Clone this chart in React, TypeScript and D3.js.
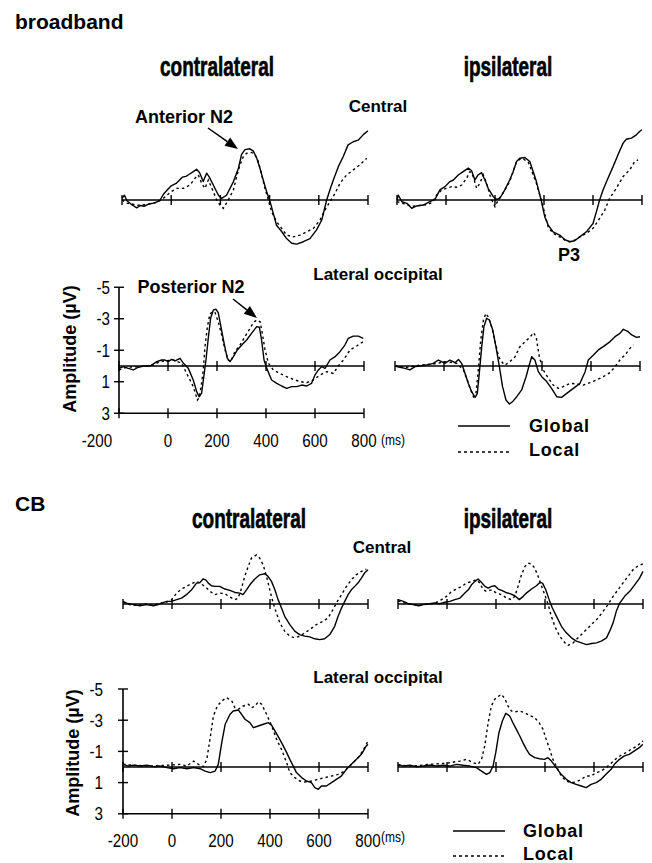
import React from 'react';
import * as d3 from 'd3';

type Pt = [number, number];

// ---------- axis values ----------
const X_TICKS = [-200, 0, 200, 400, 600, 800];
const X_TICK_LABELS = ['-200', '0', '200', '400', '600', '800'];
const Y_TICKS = [-5, -3, -1, 1, 3];
const Y_TICK_LABELS = ['-5', '-3', '-1', '1', '3'];
const SERIES_NAMES = ['Global', 'Local'];
const SECTION_NAMES = ['broadband', 'CB'];
const SIDE_NAMES = ['contralateral', 'ipsilateral'];
const SITE_NAMES = ['Central', 'Lateral occipital'];

// ---------- broadband, Central ----------
const BB_C_CONTRA_G: Pt[] = [[-200,-0.1],[-190,-0.3],[-180,0.05],[-160,0.3],[-140,0.5],[-125,0.35],[-110,0.4],[-90,0.25],[-70,0.2],[-55,0.1],[-45,0.0],[-30,-0.4],[-15,-0.65],[0,-0.9],[20,-1.05],[30,-1.2],[45,-1.45],[60,-1.5],[75,-1.65],[90,-1.8],[103,-1.95],[115,-1.75],[130,-1.17],[144,-1.7],[155,-1.45],[171,-0.95],[192,-0.3],[205,-0.1],[225,-0.3],[253,-1.17],[273,-2.0],[286,-2.9],[300,-3.2],[320,-3.25],[334,-3.1],[348,-2.65],[361,-2.0],[374,-1.27],[388,-0.53],[402,0.1],[415,0.85],[428,1.6],[449,2.0],[469,2.45],[490,2.75],[510,2.8],[537,2.65],[564,2.45],[591,1.9],[612,1.27],[632,0.0],[645,-0.64],[659,-1.27],[679,-2.1],[699,-2.75],[719,-3.5],[740,-3.7],[760,-3.8],[781,-4.15],[800,-4.4]];
const BB_C_CONTRA_L: Pt[] = [[-200,0.0],[-180,0.2],[-160,0.25],[-140,0.35],[-120,0.3],[-100,0.3],[-80,0.2],[-60,0.15],[-40,0.0],[-18,-0.3],[0,-0.53],[22,-0.74],[50,-0.74],[76,-0.95],[97,-1.38],[110,-1.59],[124,-1.06],[137,-0.74],[151,-1.27],[171,-0.53],[185,0.0],[198,0.32],[212,0.53],[232,0.0],[253,-0.64],[266,-1.49],[280,-2.23],[293,-2.76],[307,-2.97],[327,-3.02],[341,-2.87],[354,-2.44],[368,-1.59],[381,-0.74],[395,0.0],[408,0.74],[428,1.38],[449,1.8],[469,2.23],[496,2.34],[524,2.23],[551,2.02],[578,1.8],[605,1.27],[625,0.64],[645,0.11],[666,-0.42],[686,-1.06],[713,-1.59],[740,-1.91],[767,-2.23],[795,-2.65]];
const BB_C_IPSI_G: Pt[] = [[-200,0.0],[-195,-0.32],[-180,0.11],[-160,0.21],[-140,0.53],[-120,0.38],[-93,0.32],[-66,0.11],[-45,-0.04],[-25,-0.64],[-4,-0.85],[16,-1.17],[30,-1.27],[50,-1.59],[70,-1.8],[91,-2.02],[104,-1.87],[118,-1.27],[131,-1.59],[145,-1.74],[159,-1.27],[172,-0.74],[193,-0.21],[206,-0.04],[220,-0.11],[240,-0.64],[260,-1.27],[274,-1.8],[288,-2.44],[301,-2.65],[322,-2.7],[342,-2.44],[356,-1.8],[369,-1.17],[383,-0.32],[390,0.11],[403,1.06],[417,1.59],[437,2.02],[464,2.23],[485,2.51],[505,2.65],[525,2.59],[546,2.34],[573,2.02],[600,1.49],[614,0.74],[627,0.0],[641,-0.64],[661,-1.38],[682,-2.12],[702,-2.87],[723,-3.61],[736,-3.86],[757,-3.93],[777,-4.14],[790,-4.35],[800,-4.46]];
const BB_C_IPSI_L: Pt[] = [[-200,0.1],[-170,0.25],[-140,0.4],[-110,0.35],[-80,0.3],[-55,0.15],[-38,-0.32],[-18,-0.64],[2,-0.74],[23,-0.85],[43,-0.81],[64,-0.95],[84,-1.38],[98,-1.8],[111,-1.49],[125,-0.74],[138,-1.06],[152,-1.59],[166,-1.06],[179,-0.32],[193,0.21],[200,0.42],[213,0.0],[232,-0.42],[260,-1.17],[288,-2.44],[308,-2.65],[335,-2.44],[369,-1.06],[396,0.42],[417,1.7],[437,2.12],[464,2.34],[485,2.55],[505,2.65],[525,2.55],[546,2.34],[573,2.12],[600,1.8],[627,1.17],[648,0.64],[668,-0.11],[695,-0.74],[723,-1.49],[750,-1.91],[770,-2.44],[784,-2.55]];

// ---------- broadband, Lateral occipital ----------
const BB_LO_CONTRA_G: Pt[] = [[-200,0.15],[-182,0.04],[-162,0.15],[-141,0.25],[-121,0.08],[-101,0.0],[-73,0.0],[-46,-0.28],[-26,-0.38],[-12,-0.38],[1,-0.28],[15,-0.42],[29,-0.32],[49,-0.49],[63,-0.17],[83,0.15],[103,0.89],[117,1.63],[127,1.95],[137,1.74],[147,0.57],[155,-0.38],[165,-1.86],[174,-3.03],[185,-3.56],[196,-3.6],[205,-3.39],[216,-2.5],[229,-1.44],[242,-0.49],[253,-0.28],[267,-0.59],[283,-1.02],[301,-1.33],[321,-1.65],[341,-2.07],[362,-2.5],[373,-2.46],[382,-1.65],[392,-0.38],[403,0.15],[423,0.89],[444,1.1],[464,1.27],[484,1.42],[505,1.31],[525,1.31],[546,1.21],[566,1.27],[586,1.1],[600,0.57],[614,0.25],[627,0.04],[641,0.15],[661,-0.38],[682,-0.59],[702,-0.91],[722,-1.33],[736,-1.76],[756,-1.9],[777,-1.9],[797,-1.76]];
const BB_LO_CONTRA_L: Pt[] = [[-200,0.25],[-169,0.08],[-114,0.04],[-60,-0.06],[-33,-0.28],[-5,-0.34],[22,-0.38],[56,-0.17],[76,0.47],[97,1.1],[110,1.63],[120,2.16],[128,1.99],[135,1.31],[144,0.25],[151,-1.23],[161,-2.5],[171,-3.3],[182,-3.45],[192,-3.39],[205,-2.81],[219,-1.97],[233,-1.02],[246,-0.38],[256,-0.28],[273,-0.91],[294,-1.33],[314,-1.86],[335,-2.39],[348,-2.75],[362,-2.92],[376,-2.81],[386,-1.97],[396,-1.02],[410,-0.17],[430,0.25],[457,0.47],[484,0.68],[512,0.85],[539,0.99],[566,1.06],[593,0.89],[620,0.57],[648,0.36],[675,0.47],[695,0.0],[716,-0.38],[743,-1.02],[770,-1.27],[797,-1.55]];
const BB_LO_IPSI_G: Pt[] = [[-200,0.0],[-180,0.08],[-159,0.15],[-139,0.25],[-118,0.04],[-98,0.0],[-71,-0.06],[-44,-0.17],[-23,-0.38],[-10,-0.28],[4,-0.17],[24,-0.38],[45,-0.21],[59,-0.42],[72,-0.17],[86,0.47],[99,1.1],[113,1.63],[127,1.99],[136,1.74],[144,0.47],[154,-1.23],[163,-2.5],[174,-3.03],[185,-2.92],[199,-2.29],[212,-1.23],[226,0.04],[239,1.31],[253,2.16],[267,2.41],[280,2.26],[297,1.95],[317,1.52],[335,0.68],[348,-0.06],[358,-0.59],[371,-0.38],[385,0.36],[399,0.68],[419,0.99],[439,1.42],[460,1.95],[480,1.99],[501,1.74],[528,1.42],[555,1.1],[576,0.36],[589,-0.38],[610,-0.7],[630,-1.02],[650,-1.23],[678,-1.55],[698,-1.86],[718,-2.07],[732,-2.33],[752,-2.18],[766,-1.97],[786,-1.82],[800,-1.86]];
const BB_LO_IPSI_L: Pt[] = [[-200,0.0],[-152,0.08],[-98,-0.06],[-44,-0.13],[11,-0.28],[52,-0.17],[79,0.25],[95,0.89],[109,1.52],[120,1.95],[131,1.69],[140,0.25],[150,-1.65],[161,-2.92],[171,-3.34],[182,-3.09],[196,-2.39],[210,-1.44],[223,-0.59],[235,-0.28],[249,-0.06],[269,-0.28],[290,-0.59],[310,-1.23],[331,-1.55],[351,-1.82],[365,-2.12],[376,-1.86],[389,-0.59],[405,0.25],[426,0.78],[446,1.21],[467,1.42],[487,1.31],[514,1.1],[541,1.14],[569,1.21],[596,1.06],[623,0.89],[650,0.68],[678,0.42],[698,0.04],[718,-0.38],[739,-0.7],[759,-1.12],[773,-1.33]];

// ---------- CB, Central ----------
const CB_C_CONTRA_G: Pt[] = [[-200,-0.17],[-185,-0.06],[-158,0.04],[-131,0.11],[-104,0.04],[-76,0.11],[-56,0.04],[-42,-0.06],[-22,-0.17],[-2,-0.17],[19,-0.28],[39,-0.38],[59,-0.6],[80,-0.91],[100,-1.34],[114,-1.38],[127,-1.6],[138,-1.55],[148,-1.34],[161,-1.17],[175,-1.13],[195,-1.13],[216,-0.96],[236,-0.87],[257,-0.74],[277,-0.7],[290,-0.6],[304,-0.91],[318,-1.23],[338,-1.6],[358,-1.87],[379,-1.94],[392,-1.77],[406,-1.45],[420,-0.91],[433,-0.28],[447,0.26],[460,0.79],[481,1.32],[501,1.74],[521,1.96],[542,2.06],[562,2.11],[583,2.23],[603,2.28],[623,2.23],[644,1.96],[664,1.43],[678,0.79],[692,0.26],[705,-0.17],[719,-0.6],[732,-0.91],[746,-1.13],[759,-1.34],[773,-1.66],[786,-1.98],[800,-2.19]];
const CB_C_CONTRA_L: Pt[] = [[-200,-0.1],[-170,0.05],[-140,0.1],[-110,0.0],[-80,0.08],[-50,-0.05],[-25,-0.1],[-2,-0.28],[19,-0.7],[39,-0.96],[59,-1.13],[80,-1.3],[100,-1.45],[114,-1.34],[134,-1.13],[155,-0.81],[175,-0.6],[195,-0.7],[216,-0.66],[236,-0.45],[257,-0.28],[270,-0.38],[284,-1.02],[297,-1.77],[311,-2.4],[324,-2.94],[345,-3.15],[358,-2.94],[372,-2.51],[386,-1.77],[399,-0.91],[413,-0.06],[426,0.57],[440,1.21],[460,1.74],[481,2.06],[501,2.17],[521,2.06],[542,1.85],[562,1.64],[589,1.32],[617,1.11],[637,0.89],[657,0.36],[671,-0.06],[692,-0.6],[712,-1.13],[732,-1.55],[752,-1.87],[773,-2.09],[793,-2.23]];
const CB_C_IPSI_G: Pt[] = [[-200,-0.28],[-178,-0.17],[-158,-0.02],[-137,0.04],[-117,0.11],[-97,0.04],[-70,-0.02],[-49,-0.06],[-29,-0.02],[-8,-0.11],[12,-0.17],[32,-0.28],[53,-0.38],[73,-0.7],[87,-0.91],[100,-1.23],[114,-1.45],[127,-1.6],[141,-1.38],[155,-1.13],[168,-1.02],[182,-1.13],[195,-1.17],[209,-0.96],[223,-0.87],[240,-0.74],[257,-0.66],[277,-0.53],[295,-0.28],[311,-0.49],[324,-0.7],[345,-0.96],[365,-1.17],[379,-1.38],[390,-1.34],[403,-0.91],[417,-0.28],[430,0.26],[447,0.79],[467,1.43],[487,1.85],[508,2.17],[528,2.38],[549,2.49],[569,2.6],[590,2.53],[610,2.49],[630,2.38],[651,2.17],[664,1.74],[678,1.21],[691,0.47],[705,-0.06],[725,-0.49],[746,-0.81],[766,-1.23],[786,-1.66],[800,-2.09]];
const CB_C_IPSI_L: Pt[] = [[-200,-0.2],[-170,-0.05],[-140,0.05],[-110,0.1],[-80,0.0],[-50,-0.05],[-22,-0.28],[-2,-0.49],[19,-0.81],[39,-0.96],[60,-1.13],[80,-1.34],[100,-1.45],[121,-1.55],[134,-1.34],[148,-0.91],[161,-0.81],[182,-0.91],[202,-0.7],[223,-0.6],[243,-0.38],[263,-0.28],[277,-0.49],[290,-1.13],[304,-1.87],[318,-2.4],[331,-2.62],[345,-2.57],[358,-2.3],[372,-1.77],[386,-1.13],[399,-0.6],[413,0.04],[426,0.79],[440,1.43],[460,2.06],[481,2.49],[494,2.66],[515,2.49],[535,2.17],[555,1.85],[576,1.53],[596,1.21],[617,0.89],[637,0.47],[657,0.04],[678,-0.49],[698,-0.91],[718,-1.34],[739,-1.77],[759,-2.19],[780,-2.45],[800,-2.57]];

// ---------- CB, Lateral occipital ----------
const CB_LO_CONTRA_G: Pt[] = [[-200,-0.17],[-177,-0.06],[-157,-0.11],[-129,-0.06],[-102,-0.11],[-75,-0.02],[-48,-0.06],[-21,0.04],[6,0.11],[33,0.04],[61,0.11],[88,0.04],[115,0.11],[135,0.26],[156,0.36],[176,0.26],[189,-0.17],[203,-1.56],[217,-2.74],[237,-3.38],[250,-3.59],[271,-3.65],[284,-3.38],[298,-3.06],[318,-2.84],[332,-2.52],[352,-2.63],[373,-2.74],[393,-2.84],[407,-2.67],[420,-2.31],[440,-1.77],[454,-1.35],[468,-0.92],[481,-0.49],[495,-0.06],[508,0.36],[529,0.68],[549,0.9],[569,1.0],[583,1.32],[597,1.43],[610,1.22],[630,1.22],[651,1.0],[671,0.79],[691,0.58],[712,0.15],[732,-0.17],[753,-0.49],[773,-0.81],[793,-1.35],[800,-1.45]];
const CB_LO_CONTRA_L: Pt[] = [[-200,-0.17],[-157,-0.11],[-89,-0.06],[-21,-0.11],[33,-0.17],[61,-0.06],[88,-0.38],[108,-0.17],[128,-0.02],[142,-0.49],[156,-1.88],[169,-3.27],[185,-3.91],[203,-4.23],[223,-4.44],[244,-4.23],[257,-3.8],[271,-3.7],[291,-3.91],[312,-4.02],[325,-3.8],[339,-3.91],[352,-4.17],[366,-4.02],[386,-3.38],[407,-2.63],[427,-1.77],[447,-1.13],[468,-0.28],[481,0.36],[501,0.68],[522,0.9],[542,0.96],[569,0.9],[596,0.79],[624,0.68],[651,0.58],[678,0.47],[705,0.26],[725,-0.06],[746,-0.38],[766,-0.71],[786,-1.24],[800,-1.67]];
const CB_LO_IPSI_G: Pt[] = [[-200,-0.17],[-178,-0.06],[-151,-0.11],[-124,-0.02],[-97,-0.06],[-70,-0.11],[-43,-0.06],[-15,-0.11],[12,-0.06],[39,-0.17],[66,-0.11],[93,-0.06],[120,0.04],[141,0.26],[161,0.47],[175,0.36],[188,-0.06],[199,-0.92],[212,-2.2],[226,-2.95],[240,-3.44],[256,-3.27],[269,-2.84],[283,-2.41],[297,-1.99],[310,-1.56],[324,-1.13],[337,-0.81],[358,-0.6],[378,-0.53],[398,-0.49],[412,-0.6],[426,-0.38],[446,0.04],[466,0.47],[487,0.79],[507,1.0],[527,1.11],[548,1.22],[568,1.32],[588,1.11],[609,1.0],[629,0.79],[649,0.47],[670,0.15],[683,-0.17],[704,-0.49],[724,-0.71],[744,-0.81],[765,-1.03],[785,-1.24],[799,-1.45]];
const CB_LO_IPSI_L: Pt[] = [[-200,-0.11],[-138,-0.06],[-70,-0.17],[-2,-0.24],[52,-0.38],[80,-0.49],[107,-0.28],[127,-0.17],[141,-0.49],[154,-1.35],[168,-2.84],[181,-3.91],[195,-4.34],[208,-4.51],[222,-4.66],[236,-4.38],[249,-3.91],[263,-3.59],[276,-3.53],[297,-3.59],[317,-3.48],[337,-3.31],[358,-3.16],[376,-2.84],[392,-2.41],[405,-1.77],[419,-1.13],[432,-0.49],[446,-0.06],[466,0.58],[487,0.9],[507,1.0],[527,0.96],[548,0.79],[568,0.58],[588,0.58],[609,0.36],[629,0.26],[649,0.04],[670,-0.24],[690,-0.53],[710,-0.75],[731,-0.92],[751,-1.13],[772,-1.3],[792,-1.56],[800,-1.67]];

// ---------- layout (pixels) ----------
const FONT = "'Liberation Sans', Arial, Helvetica, sans-serif";
const W = 652;
const H = 863;

type PanelCfg = { x0: number; x1: number; zeroY: number; k: number; g: Pt[]; l: Pt[]; yAxis?: boolean };

const SECTIONS = [
  {
    name: SECTION_NAMES[0], nameY: 29,
    titleY: 76, titleX: [217, 508],
    site0: { x: 378, y: 112 }, site1: { x: 378, y: 280 },
    panels: [
      { x0: 122, x1: 368, zeroY: 200, k: 15.75, g: BB_C_CONTRA_G, l: BB_C_CONTRA_L },
      { x0: 397, x1: 642, zeroY: 200, k: 15.75, g: BB_C_IPSI_G, l: BB_C_IPSI_L },
      { x0: 119, x1: 364, zeroY: 366, k: 15.75, g: BB_LO_CONTRA_G, l: BB_LO_CONTRA_L, yAxis: true },
      { x0: 395, x1: 640, zeroY: 366, k: 15.75, g: BB_LO_IPSI_G, l: BB_LO_IPSI_L },
    ] as PanelCfg[],
    yLabelX: 110, xLabelY: 447, firstLabelShift: -22, msX: 381, msY: 445,
    ampX: 76, ampY: 349,
    legend: { x0: 458, x1: 510, tx: 529, y1: 426, y2: 452 },
  },
  {
    name: SECTION_NAMES[1], nameY: 511,
    titleY: 528, titleX: [249, 508],
    site0: { x: 382, y: 553 }, site1: { x: 378, y: 683 },
    panels: [
      { x0: 123, x1: 368, zeroY: 604, k: 15.6, g: CB_C_CONTRA_G, l: CB_C_CONTRA_L },
      { x0: 398, x1: 643, zeroY: 604, k: 15.6, g: CB_C_IPSI_G, l: CB_C_IPSI_L },
      { x0: 123, x1: 368, zeroY: 767, k: 15.6, g: CB_LO_CONTRA_G, l: CB_LO_CONTRA_L, yAxis: true },
      { x0: 398, x1: 643, zeroY: 767, k: 15.6, g: CB_LO_IPSI_G, l: CB_LO_IPSI_L },
    ] as PanelCfg[],
    yLabelX: 103, xLabelY: 847, firstLabelShift: 0, msX: 381, msY: 842,
    ampX: 79, ampY: 753,
    legend: { x0: 453, x1: 505, tx: 523, y1: 831, y2: 856 },
  },
];

const NARROW = 0.8;

function NarrowText({ x, y, size, anchor, children, weight }: any) {
  // condensed face emulated with a horizontal squeeze
  return (
    <g transform={`translate(${x},${y}) scale(${NARROW},1)`}>
      <text x={0} y={0} fontFamily={FONT} fontSize={size} fontWeight={weight || 'normal'} textAnchor={anchor || 'start'}>{children}</text>
    </g>
  );
}

function Panel({ cfg, section }: { cfg: PanelCfg; section: any }) {
  const x = d3.scaleLinear().domain([-200, 800]).range([cfg.x0, cfg.x1]);
  const y = d3.scaleLinear().domain([0, 1]).range([cfg.zeroY, cfg.zeroY + cfg.k]);
  const line = d3.line<Pt>().x((d) => x(d[0])).y((d) => y(d[1]));
  const y0 = y(0);
  const tick = 5;
  return (
    <g>
      <line x1={x(-200)} x2={x(800)} y1={y0} y2={y0} stroke="#000" strokeWidth={1.6} />
      {X_TICKS.map((t) => (
        <line key={'zt' + t} x1={x(t)} x2={x(t)} y1={y0 - tick} y2={y0 + tick} stroke="#000" strokeWidth={1.4} />
      ))}
      {cfg.yAxis && (
        <g>
          <line x1={x(-200)} x2={x(-200)} y1={y(Y_TICKS[0])} y2={y(Y_TICKS[Y_TICKS.length - 1])} stroke="#000" strokeWidth={1.6} />
          {Y_TICKS.map((v, i) => (
            <g key={'yt' + v}>
              <line x1={x(-200) - tick} x2={x(-200) + tick} y1={y(v)} y2={y(v)} stroke="#000" strokeWidth={1.4} />
              <NarrowText x={section.yLabelX} y={y(v) + 6.5} size={19} anchor="end">{Y_TICK_LABELS[i]}</NarrowText>
            </g>
          ))}
          <line x1={x(-200)} x2={x(800)} y1={y(3)} y2={y(3)} stroke="#000" strokeWidth={1.6} />
          {X_TICKS.map((t, i) => (
            <g key={'xt' + t}>
              <line x1={x(t)} x2={x(t)} y1={y(3) - tick} y2={y(3) + tick} stroke="#000" strokeWidth={1.4} />
              <NarrowText x={x(t) + (i === 0 ? section.firstLabelShift : 0)} y={section.xLabelY} size={19} anchor="middle">{X_TICK_LABELS[i]}</NarrowText>
            </g>
          ))}
          <NarrowText x={section.msX} y={section.msY} size={15}>(ms)</NarrowText>
        </g>
      )}
      <path d={line(cfg.g) || ''} fill="none" stroke="#000" strokeWidth={1.4} strokeLinejoin="round" />
      <path d={line(cfg.l) || ''} fill="none" stroke="#000" strokeWidth={1.4} strokeDasharray="2.5,3" />
    </g>
  );
}

function Arrow({ x1, y1, x2, y2 }: { x1: number; y1: number; x2: number; y2: number }) {
  const a = Math.atan2(y2 - y1, x2 - x1);
  const hl = 13, hw = 5;
  const bx = x2 - hl * Math.cos(a), by = y2 - hl * Math.sin(a);
  const px = -Math.sin(a) * hw, py = Math.cos(a) * hw;
  return (
    <g>
      <line x1={x1} y1={y1} x2={bx} y2={by} stroke="#000" strokeWidth={1.5} />
      <polygon points={`${x2},${y2} ${bx + px},${by + py} ${bx - px},${by - py}`} fill="#000" />
    </g>
  );
}

function Section({ s }: { s: any }) {
  return (
    <g>
      <text x={15} y={s.nameY} fontFamily={FONT} fontSize={21} fontWeight="bold">{s.name}</text>
      {SIDE_NAMES.map((n, i) => (
        <g key={n} transform={`translate(${s.titleX[i]},${s.titleY}) scale(0.76,1.08)`}>
          <text x={0} y={0} fontFamily={FONT} fontSize={25} fontWeight="bold" textAnchor="middle" stroke="#000" strokeWidth={0.6}>{n}</text>
        </g>
      ))}
      <text x={s.site0.x} y={s.site0.y} fontFamily={FONT} fontSize={17} fontWeight="bold" textAnchor="middle">{SITE_NAMES[0]}</text>
      <text x={s.site1.x} y={s.site1.y} fontFamily={FONT} fontSize={17} fontWeight="bold" textAnchor="middle">{SITE_NAMES[1]}</text>
      {s.panels.map((p: PanelCfg, i: number) => <Panel key={i} cfg={p} section={s} />)}
      <text transform={`translate(${s.ampX},${s.ampY}) rotate(-90)`} fontFamily={FONT} fontSize={18} fontWeight="bold" textAnchor="middle">Amplitude (µV)</text>
      <line x1={s.legend.x0} x2={s.legend.x1} y1={s.legend.y1} y2={s.legend.y1} stroke="#000" strokeWidth={1.3} />
      <line x1={s.legend.x0} x2={s.legend.x1} y1={s.legend.y2} y2={s.legend.y2} stroke="#000" strokeWidth={1.3} strokeDasharray="3,3" />
      <text x={s.legend.tx} y={s.legend.y1 + 6} fontFamily={FONT} fontSize={18} fontWeight="bold" letterSpacing={0.8}>{SERIES_NAMES[0]}</text>
      <text x={s.legend.tx} y={s.legend.y2 + 4} fontFamily={FONT} fontSize={18} fontWeight="bold" letterSpacing={0.8}>{SERIES_NAMES[1]}</text>
    </g>
  );
}

export default function App() {
  return (
    <svg width={W} height={H} viewBox={`0 0 ${W} ${H}`} style={{ position: 'absolute', left: 0, top: 0, background: '#fff' }}>
      <rect x={0} y={0} width={W} height={H} fill="#fff" />
      {SECTIONS.map((s) => <Section key={s.name} s={s} />)}
      <text x={184} y={123} fontFamily={FONT} fontSize={18} fontWeight="bold" textAnchor="middle">Anterior N2</text>
      <Arrow x1={208} y1={128} x2={238} y2={149} />
      <text x={191} y={293} fontFamily={FONT} fontSize={18} fontWeight="bold" textAnchor="middle">Posterior N2</text>
      <Arrow x1={233} y1={299} x2={257} y2={318} />
      <text x={569} y={261} fontFamily={FONT} fontSize={18} fontWeight="bold" textAnchor="middle">P3</text>
    </svg>
  );
}
